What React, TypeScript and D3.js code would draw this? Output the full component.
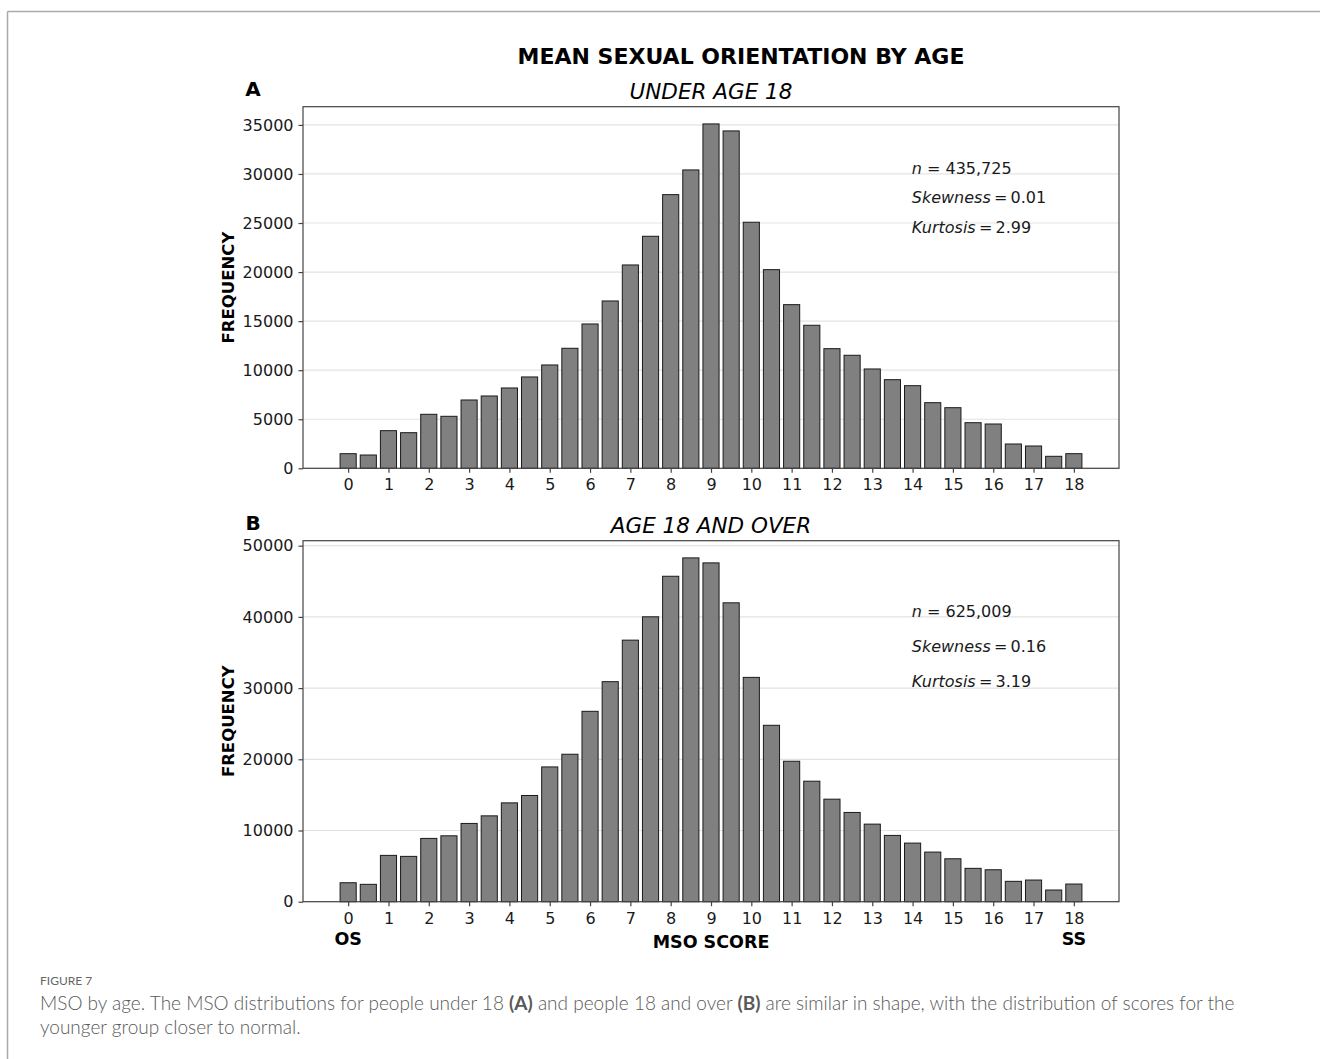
import React, { useEffect, useRef } from 'react';
import * as d3 from 'd3';

// MSO score bins (half-point steps)
const scores = [0, 0.5, 1, 1.5, 2, 2.5, 3, 3.5, 4, 4.5, 5, 5.5, 6, 6.5, 7, 7.5, 8, 8.5, 9,
  9.5, 10, 10.5, 11, 11.5, 12, 12.5, 13, 13.5, 14, 14.5, 15, 15.5, 16, 16.5, 17, 17.5, 18];

const under18 = [1490, 1355, 3835, 3630, 5505, 5300, 6963, 7371, 8187, 9310, 10532, 12233, 14711,
  17056, 20725, 23650, 27894, 30411, 35101, 34388, 25080, 20248, 16680, 14578, 12193, 11520,
  10124, 9033, 8421, 6688, 6178, 4649, 4516, 2477, 2273, 1223, 1490];

const over18 = [2664, 2439, 6505, 6365, 8888, 9253, 10991, 12057, 13880, 14917, 18927, 20708, 26736,
  30900, 36732, 40012, 45705, 48284, 47583, 41976, 31503, 24773, 19726, 16922, 14399, 12534,
  10893, 9309, 8230, 6968, 6029, 4683, 4486, 2860, 3042, 1640, 2481];

const xTicks = [0, 1, 2, 3, 4, 5, 6, 7, 8, 9, 10, 11, 12, 13, 14, 15, 16, 17, 18];
const yTicksA = [0, 5000, 10000, 15000, 20000, 25000, 30000, 35000];
const yTicksB = [0, 10000, 20000, 30000, 40000, 50000];

const statsA = ['435,725', '0.01', '2.99'];
const statsB = ['625,009', '0.16', '3.19'];

const FONT = 'DejaVu Sans';

const App: React.FC = () => {
  const svgRef = useRef<SVGSVGElement>(null);

  useEffect(() => {
    if (!svgRef.current) return;
    const svg = d3.select(svgRef.current);
    svg.selectAll('*').remove();

    const width = 1320;
    const height = 1059;

    // page frame
    svg.append('line').attr('x1', 7.5).attr('x2', width).attr('y1', 11.5).attr('y2', 11.5)
      .attr('stroke', '#aaaaaa').attr('stroke-width', 1.5);
    svg.append('line').attr('x1', 7.5).attr('x2', 7.5).attr('y1', 11.5).attr('y2', height)
      .attr('stroke', '#aaaaaa').attr('stroke-width', 1.5);

    // main title
    svg.append('text')
      .attr('x', 741).attr('y', 64)
      .attr('text-anchor', 'middle')
      .style('font-family', FONT).style('font-size', '22px').style('font-weight', 'bold')
      .style('fill', '#000')
      .text('MEAN SEXUAL ORIENTATION BY AGE');

    const left = 303;
    const right = 1119;
    const barW = 0.4;
    const pad = (18 + barW) * 0.05;
    const x = d3.scaleLinear()
      .domain([-barW / 2 - pad, 18 + barW / 2 + pad])
      .range([left, right]);

    const panels = [
      { letter: 'A', title: 'UNDER AGE 18', values: under18, ticks: yTicksA, stats: statsA,
        top: 106.7, bottom: 468.3, statY: [0.83, 0.748, 0.667] },
      { letter: 'B', title: 'AGE 18 AND OVER', values: over18, ticks: yTicksB, stats: statsB,
        top: 540.7, bottom: 901.7, statY: [0.805, 0.708, 0.609] }
    ];

    panels.forEach((p, pi) => {
      const ymax = (d3.max(p.values) as number) * 1.05;
      const y = d3.scaleLinear().domain([0, ymax]).range([p.bottom, p.top]);
      const g = svg.append('g');

      // grid
      g.selectAll('.grid')
        .data(p.ticks)
        .enter().append('line')
        .attr('x1', left).attr('x2', right)
        .attr('y1', d => y(d)).attr('y2', d => y(d))
        .attr('stroke', '#e3e3e3').attr('stroke-width', 1.2);

      // bars
      g.selectAll('.bar')
        .data(p.values)
        .enter().append('rect')
        .attr('x', (d, i) => x(scores[i] - barW / 2))
        .attr('width', x(barW) - x(0))
        .attr('y', d => y(d))
        .attr('height', d => y(0) - y(d))
        .attr('fill', '#808080')
        .attr('stroke', '#1a1a1a')
        .attr('stroke-width', 1);

      // spines
      g.append('rect')
        .attr('x', left).attr('y', p.top)
        .attr('width', right - left).attr('height', p.bottom - p.top)
        .attr('fill', 'none').attr('stroke', '#444').attr('stroke-width', 1.2);

      // y axis
      const yAxis = g.append('g')
        .attr('transform', `translate(${left},0)`)
        .call(d3.axisLeft(y).tickValues(p.ticks).tickSize(4.5).tickPadding(5).tickFormat(d3.format('d')));
      yAxis.select('.domain').remove();
      yAxis.selectAll('line').attr('stroke', '#444').attr('stroke-width', 1.2);
      yAxis.selectAll('text')
        .style('font-family', FONT).style('font-size', '16px').style('fill', '#1a1a1a');

      // x axis
      const xAxis = g.append('g')
        .attr('transform', `translate(0,${p.bottom})`)
        .call(d3.axisBottom(x).tickValues(xTicks).tickSize(4.5).tickPadding(6).tickFormat(d3.format('d')));
      xAxis.select('.domain').remove();
      xAxis.selectAll('line').attr('stroke', '#444').attr('stroke-width', 1.2);
      xAxis.selectAll('text')
        .style('font-family', FONT).style('font-size', '16px').style('fill', '#1a1a1a');

      // y label
      g.append('text')
        .attr('transform', `translate(234,${(p.top + p.bottom) / 2}) rotate(-90)`)
        .attr('text-anchor', 'middle')
        .style('font-family', FONT).style('font-size', '16.5px').style('font-weight', 'bold')
        .text('FREQUENCY');

      // panel letter
      g.append('text')
        .attr('x', 253).attr('y', p.top - 11)
        .attr('text-anchor', 'middle')
        .style('font-family', FONT).style('font-size', '20px').style('font-weight', 'bold')
        .text(p.letter);

      // subplot title
      g.append('text')
        .attr('x', 711).attr('y', p.top - 8)
        .attr('text-anchor', 'middle')
        .style('font-family', FONT).style('font-size', '21.5px').style('font-style', 'italic')
        .text(p.title);

      // stats
      const labels = ['n', 'Skewness', 'Kurtosis'];
      labels.forEach((lab, li) => {
        const ty = p.bottom - p.statY[li] * (p.bottom - p.top);
        const t = g.append('text')
          .attr('x', left + 0.746 * (right - left)).attr('y', ty)
          .attr('dy', '0.35em')
          .style('font-family', FONT).style('font-size', '16px').style('fill', '#1a1a1a');
        t.append('tspan').style('font-style', 'italic').text(lab);
        t.append('tspan').text((li === 0 ? ' = ' : '\u2009=\u2009') + p.stats[li]);
      });

      if (pi === 1) {
        const lab = (tx: number, ty: number, s: string) =>
          g.append('text').attr('x', tx).attr('y', ty).attr('text-anchor', 'middle')
            .style('font-family', FONT).style('font-size', '17.5px').style('font-weight', 'bold')
            .text(s);
        lab(x(0), p.bottom + 43, 'OS');
        lab(x(18), p.bottom + 43, 'SS');
        lab(711, p.bottom + 46, 'MSO SCORE');
      }
    });

    // caption
    svg.append('text')
      .attr('x', 40).attr('y', 985)
      .style('font-family', 'Lato').style('font-size', '12px').style('fill', '#666')
      .text('FIGURE 7');

    const cap1 = svg.append('text')
      .attr('x', 40).attr('y', 1010)
      .style('font-family', 'Lato').style('font-size', '19px').style('fill', '#595959')
      .style('font-weight', 300);
    cap1.append('tspan').text('MSO by age. The MSO distributions for people under 18 ');
    cap1.append('tspan').style('font-weight', 'bold').text('(A)');
    cap1.append('tspan').text(' and people 18 and over ');
    cap1.append('tspan').style('font-weight', 'bold').text('(B)');
    cap1.append('tspan').text(' are similar in shape, with the distribution of scores for the');

    svg.append('text')
      .attr('x', 40).attr('y', 1034)
      .style('font-family', 'Lato').style('font-size', '19px').style('fill', '#595959')
      .style('font-weight', 300)
      .text('younger group closer to normal.');
  }, []);

  return (
    <div style={{ position: 'absolute', left: 0, top: 0 }}>
      <svg ref={svgRef} width={1320} height={1059} style={{ display: 'block', background: '#fff' }} />
    </div>
  );
};

export default App;
